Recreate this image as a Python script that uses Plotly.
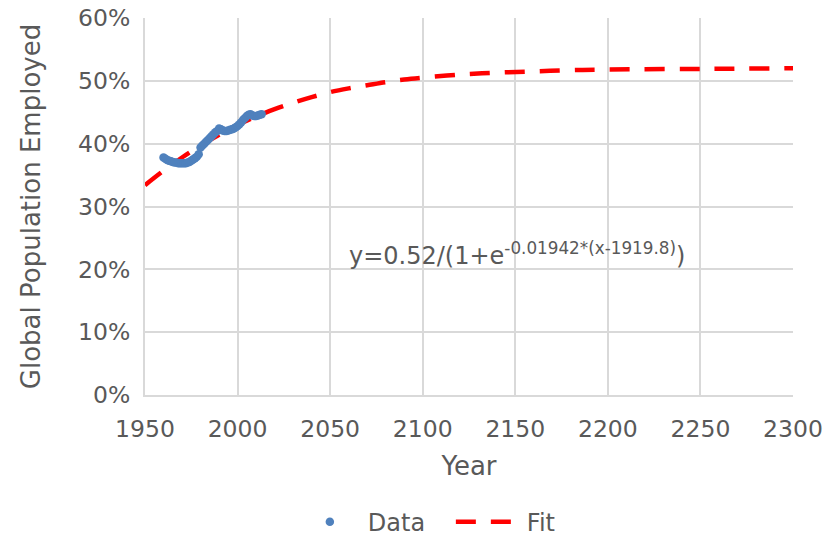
import plotly.graph_objects as go

# Observed data (year, share of global population employed)
data_years = list(range(1960, 2014))
data_values = [
    0.378, 0.376, 0.374, 0.373, 0.372, 0.371, 0.370, 0.370, 0.369, 0.369,
    0.369, 0.369, 0.369, 0.370, 0.371, 0.373, 0.375, 0.377, 0.379, 0.383,
    0.394, 0.397, 0.400, 0.403, 0.406, 0.409, 0.412, 0.415, 0.418, 0.420,
    0.424, 0.423, 0.421, 0.420, 0.420, 0.421, 0.422, 0.423, 0.424, 0.426,
    0.428, 0.431, 0.434, 0.438, 0.441, 0.444, 0.446, 0.447, 0.445, 0.444,
    0.444, 0.445, 0.446, 0.447,
]

# Fit curve
fit_years = [1950, 1960, 1970, 1980, 1990, 2000, 2010, 2020, 2030, 2040, 2050,
             2060, 2070, 2080, 2090, 2100, 2120, 2140, 2160, 2180, 2200, 2250, 2300]
fit_values = [0.334, 0.357, 0.378, 0.397, 0.414, 0.430, 0.443, 0.455, 0.465, 0.474,
              0.482, 0.488, 0.493, 0.498, 0.502, 0.505, 0.510, 0.513, 0.515, 0.517,
              0.518, 0.519, 0.520]

x_ticks = [1950, 2000, 2050, 2100, 2150, 2200, 2250, 2300]
y_ticks = [0, 0.1, 0.2, 0.3, 0.4, 0.5, 0.6]

FONT = "DejaVu Sans, Verdana, sans-serif"
TXT = "#595959"
GRID = "#d9d9d9"

fig = go.Figure()
fig.add_trace(go.Scatter(
    x=fit_years, y=fit_values, mode="lines", name="Fit",
    line=dict(color="#FF0000", width=4.5, dash="20px,15px", shape="spline"),
))
fig.add_trace(go.Scatter(
    x=data_years, y=data_values, mode="markers", name="Data",
    marker=dict(color="#4F81BD", size=8.5),
))

fig.add_annotation(
    x=2059, y=0.225, xref="x", yref="y", xanchor="left", yanchor="middle",
    text="y=0.52/(1+e<sup>-0.01942*(x-1919.8)</sup>)", showarrow=False,
    font=dict(family=FONT, size=24, color=TXT),
)

fig.update_layout(
    width=825, height=540,
    margin=dict(l=145, r=32, t=18, b=145, autoexpand=False),
    paper_bgcolor="white", plot_bgcolor="white",
    font=dict(family=FONT, size=23, color=TXT),
    showlegend=True,
    legend=dict(orientation="h", x=0.472, xanchor="center", y=-0.337, yanchor="middle",
                font=dict(size=24, color=TXT), traceorder="reversed",
                itemwidth=66, entrywidth=78, entrywidthmode="pixels"),
    xaxis=dict(
        range=[1950, 2300], tickvals=x_ticks, tickformat="d",
        showgrid=True, gridcolor=GRID, gridwidth=2,
        showline=True, linecolor=GRID, linewidth=2,
        ticks="outside", ticklen=12, tickcolor="rgba(0,0,0,0)", tickwidth=2,
        zeroline=False, automargin=False,
        title=dict(text="Year", font=dict(size=26, color=TXT), standoff=15),
        tickfont=dict(size=23.5, color=TXT),
    ),
    yaxis=dict(
        range=[0, 0.6], tickvals=y_ticks, tickformat=".0%",
        showgrid=True, gridcolor=GRID, gridwidth=2,
        showline=True, linecolor=GRID, linewidth=2,
        zeroline=False, ticks="outside", ticklen=8, tickcolor="rgba(0,0,0,0)",
        automargin=False,
        title=dict(text="Global Population Employed", font=dict(size=26, color=TXT), standoff=30),
        tickfont=dict(size=23.5, color=TXT),
    ),
)

fig.write_html("out.html")
